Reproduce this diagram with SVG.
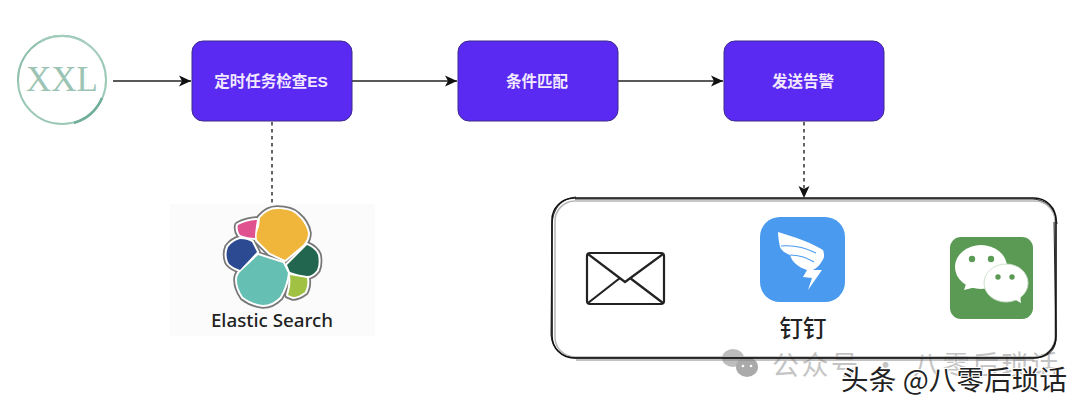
<svg xmlns="http://www.w3.org/2000/svg" width="1080" height="408" viewBox="0 0 1080 408">
<defs>
<marker id="arr" markerUnits="userSpaceOnUse" markerWidth="13" markerHeight="13" refX="12" refY="6.5" orient="auto"><path d="M0,1 L12,6.5 L0,12 L3,6.5 Z" fill="#111"/></marker>
<g id="petals">
<path id="p1" d="M260,218 C265,212 271,209 277,209 C287,209 293,211 297,215 C303,220 307,227 308,233 C308,238 306,242 303,245 L285,260 L270,253 L257,240 C256,235 257,231 259,227 Z"/>
<path id="p2" d="M238,225 C244,222 251,220 257,220 C256,226 255,232 255,238 C250,238 245,237 240,235 C238,232 237,228 238,225 Z"/>
<path id="p3" d="M228,247 C232,242 236,240 240,239 C245,239 249,240 252,242 L257,252 L240,270 C235,268 230,266 228,262 C226,257 226,252 228,247 Z"/>
<path id="p4" d="M258,255 L283,263 L288,273 C287,282 284,290 280,297 C275,302 269,305 263,305 C255,304 248,301 243,297 C239,291 237,286 237,280 C237,277 238,274 240,272 Z"/>
<path id="p5" d="M287,265 L307,245 C312,247 316,250 318,255 C319,260 319,265 317,270 C314,274 311,276 307,276 C301,275 295,274 290,272 Z"/>
<path id="p6" d="M290,275 L307,278 C308,283 307,288 305,292 C301,295 297,297 293,297 L288,295 C290,289 291,282 290,275 Z"/>
</g>
</defs>
<style>
.box{fill:#5b2af2;stroke:#3c2a8c;stroke-width:1}
.lbl{font:bold 15.5px "Liberation Sans","Noto Sans CJK SC",sans-serif;fill:#f2e8ff;text-anchor:middle}
.c{fill:none;stroke:#222;stroke-width:1.4}
.d{stroke-dasharray:3.5 3.5}
.cjk{font-family:"Noto Sans CJK SC",sans-serif}
.sk{fill:none;stroke:#111}
</style>
<rect width="1080" height="408" fill="#fff"/>
<g id="watermark-back">
<ellipse cx="733" cy="358" rx="11" ry="9" fill="#bdbdbd"/><ellipse cx="747" cy="367" rx="11" ry="10" fill="#aaa"/>
<circle cx="743" cy="366" r="1.3" fill="#fff"/><circle cx="751" cy="366" r="1.3" fill="#fff"/>
<text class="cjk" x="772" y="375" font-size="27" letter-spacing="2.5" word-spacing="3" fill="#c4c4c4">公众号 · 八零后琐话</text>
</g>
<g id="connectors">
<path class="c" d="M113,81 H191" marker-end="url(#arr)"/>
<path class="c" d="M352,81 H457" marker-end="url(#arr)"/>
<path class="c" d="M618,81 H723" marker-end="url(#arr)"/>
<path class="c d" d="M272,122 V206"/>
<path class="c d" d="M804,122 V198" marker-end="url(#arr)"/>
</g>
<g id="xxl">
<circle cx="62" cy="80" r="44" fill="none" stroke="#9cc8b6" stroke-width="2"/>
<path d="M18,82 A44,45 0 0 1 85,42" fill="none" stroke="#8fc0ac" stroke-width="1.4"/>
<path d="M74,123 A44,44 0 0 0 102,98" fill="none" stroke="#6fae97" stroke-width="2.5"/>
<path d="M40,41 A45,45 0 0 1 100,58" fill="none" stroke="#a9d0c0" stroke-width="1.2"/>
<text x="62" y="91" font-family="Liberation Serif,serif" font-size="35" fill="#9cc4b4" text-anchor="middle">XXL</text>
</g>
<g id="n1"><rect class="box" x="192" y="41" width="160" height="80" rx="11"/><text class="lbl" x="271" y="87">定时任务检查ES</text></g>
<g id="n2"><rect class="box" x="458" y="41" width="160" height="80" rx="11"/><text class="lbl" x="537" y="87">条件匹配</text></g>
<g id="n3"><rect class="box" x="724" y="41" width="160" height="80" rx="11"/><text class="lbl" x="803" y="87">发送告警</text></g>
<g id="es">
<rect x="170" y="204" width="205" height="132" fill="#fbfbfb"/>
<use href="#petals" fill="#777" stroke="#777" stroke-width="7.5" stroke-linejoin="round"/>
<use href="#petals" fill="#fff" stroke="#fff" stroke-width="4" stroke-linejoin="round"/>
<use href="#p1" fill="#efb63b"/>
<use href="#p2" fill="#e0518f"/>
<use href="#p3" fill="#2c4a91"/>
<use href="#p4" fill="#66bfb3"/>
<use href="#p5" fill="#23664f"/>
<use href="#p6" fill="#a1c143"/>
<text x="272" y="327" font-family="Noto Sans,sans-serif" font-size="18.8" font-weight="500" fill="#222" text-anchor="middle">Elastic Search</text>
</g>
<g id="channels">
<rect x="555" y="201" width="500" height="156" rx="20" fill="none" stroke="#b5b5b5" stroke-width="1.5"/>
<rect class="sk" x="552" y="198" width="504" height="160" rx="22" stroke-width="1.6"/>
<path class="sk" d="M575,199 H1030 C1045,199 1055,206 1057,224 M1054,222 L1056,340 C1055,352 1046,358 1034,358 H576 C562,358 552,348 551,335 L552,225 C553,207 562,199 576,197" stroke-width="0.9"/>
<path d="M576,360 H1034" fill="none" stroke="#888" stroke-width="1.2"/>
</g>
<g id="mail" fill="none" stroke="#222" stroke-width="2.2" stroke-linejoin="round">
<rect x="587" y="253" width="77" height="51" rx="3"/>
<path d="M588,254 L625,282 L663,254 M588,303 L620,278 M663,303 L630,278"/>
</g>
<g id="dingtalk">
<rect x="760" y="217" width="85" height="85" rx="20" fill="#4a9bf0"/>
<path d="M778,232 C795,237 812,243 823,250 C825,256 824,258 822,261 C820,265 817,268 813,270 L822,270 L808,290 L812,278 L803,277 L807,270 C798,267 792,262 790,255 C785,253 781,250 780,247 C779,242 778,237 778,232 Z" fill="#fff"/>
<path d="M781,246 C792,245 804,247 816,253 M790,255 C798,255 806,257 814,262" fill="none" stroke="#4a9bf0" stroke-width="1.2"/>
<text class="cjk" x="803" y="337" font-size="23.5" font-weight="500" fill="#222" text-anchor="middle">钉钉</text>
</g>
<g id="wechat">
<rect x="950" y="237" width="83" height="82" rx="11" fill="#5a9a55"/>
<ellipse cx="981" cy="267" rx="26" ry="22" fill="#fff"/>
<path d="M966,284 L964,290 L976,287 Z" fill="#fff"/>
<ellipse cx="1006" cy="283" rx="22" ry="19" fill="#fff" stroke="#cfe0cd"/>
<path d="M1014,299 L1021,303 L1020,294 Z" fill="#fff"/>
<circle cx="972" cy="259" r="3.2" fill="#5a9a55"/><circle cx="991" cy="259" r="3.2" fill="#5a9a55"/>
<circle cx="998" cy="277" r="2.7" fill="#5a9a55"/><circle cx="1012" cy="277" r="2.7" fill="#5a9a55"/>
</g>
<g id="watermark-front">
<text class="cjk" x="841" y="390" font-size="27.5" textLength="226" fill="#222" stroke="#fff" stroke-width="2.2" paint-order="stroke">头条 @八零后琐话</text>
</g>
</svg>
